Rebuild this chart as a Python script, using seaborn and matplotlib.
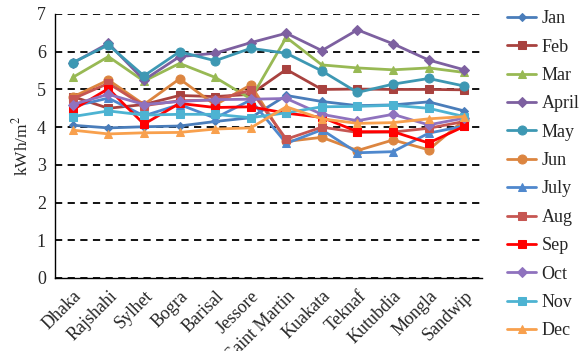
import numpy as np
import pandas as pd
import matplotlib
matplotlib.use("Agg")
import matplotlib.pyplot as plt
import seaborn as sns

# 地点
cities = ["Dhaka", "Rajshahi", "Sylhet", "Bogra", "Barisal", "Jessore",
          "Saint Martin", "Kuakata", "Teknaf", "Kutubdia", "Mongla", "Sandwip"]

# 月別日射量 (kWh/m2)
jan = [4.05, 3.98, 4.01, 4.03, 4.15, 4.25, 4.84, 4.68, 4.57, 4.59, 4.67, 4.43]
feb = [4.81, 4.50, 4.60, 4.84, 4.81, 4.87, 5.53, 5.00, 5.01, 5.00, 5.00, 4.99]
mar = [5.32, 5.87, 5.22, 5.69, 5.32, 4.75, 6.38, 5.65, 5.57, 5.52, 5.57, 5.45]
april = [5.70, 6.22, 5.25, 5.87, 5.96, 6.24, 6.49, 6.03, 6.58, 6.21, 5.78, 5.52]
may = [5.71, 6.18, 5.36, 6.00, 5.76, 6.09, 5.96, 5.49, 4.92, 5.14, 5.29, 5.09]
jun = [4.80, 5.25, 4.60, 5.28, 4.59, 5.12, 3.62, 3.73, 3.38, 3.66, 3.40, 4.19]
july = [4.55, 4.77, 4.30, 4.60, 4.24, 4.72, 3.57, 3.93, 3.32, 3.35, 3.84, 4.03]
aug = [4.75, 5.16, 4.57, 4.70, 4.72, 4.98, 3.68, 4.00, 3.86, 3.87, 3.97, 4.15]
sep = [4.46, 5.02, 4.08, 4.63, 4.52, 4.54, 4.37, 4.26, 3.88, 3.88, 3.58, 4.02]
oct_ = [4.60, 4.87, 4.60, 4.68, 4.73, 4.74, 4.76, 4.34, 4.17, 4.34, 4.06, 4.24]
nov = [4.28, 4.43, 4.32, 4.34, 4.34, 4.25, 4.38, 4.54, 4.55, 4.58, 4.50, 4.28]
dec = [3.92, 3.82, 3.85, 3.86, 3.95, 3.98, 4.54, 4.22, 4.10, 4.12, 4.22, 4.28]

months = ["Jan", "Feb", "Mar", "April", "May", "Jun",
          "July", "Aug", "Sep", "Oct", "Nov", "Dec"]
values = [jan, feb, mar, april, may, jun, july, aug, sep, oct_, nov, dec]

# 色・マーカー
colors = ["#4A7DBA", "#A8423F", "#98B954", "#7D60A0", "#3D98B3", "#DC8540",
          "#4F88CD", "#C65652", "#FF0000", "#8F72BE", "#4DB3D2", "#F8A04D"]
markers = ["D", "s", "^", "D", "o", "o", "^", "s", "s", "D", "s", "^"]
msizes = [4, 6, 6, 5, 6.5, 6.5, 6, 6, 6, 5.5, 6, 6]

df = pd.DataFrame({
    "city": cities * len(months),
    "month": np.repeat(months, len(cities)),
    "value": np.concatenate(values),
})

sns.set_style("white")
plt.rcParams["font.family"] = ["Liberation Serif", "DejaVu Serif"]
plt.rcParams["mathtext.fontset"] = "stix"

fig = plt.figure(figsize=(5.86, 3.51), dpi=100)
ax = fig.add_axes([55 / 586, 1 - 278 / 351, 427 / 586, 264 / 351])

for m, c, mk, ms in zip(months, colors, markers, msizes):
    sub = df[df["month"] == m]
    sns.lineplot(data=sub, x="city", y="value", ax=ax, color=c, marker=mk,
                 markersize=ms, markeredgecolor=c, linewidth=2.0, sort=False,
                 label=m)

ax.set_xlim(-0.5, len(cities) - 0.5)
ax.set_ylim(0, 7)
ax.set_yticks(range(0, 8))
ax.set_xticks(range(len(cities)))
ax.set_xticklabels(cities, rotation=45, ha="right", rotation_mode="anchor")
ax.set_xticks(np.arange(-0.5, len(cities), 1), minor=True)
ax.tick_params(axis="x", which="major", length=0, labelsize=13, pad=7)
ax.tick_params(axis="x", which="minor", length=5, direction="out", color="black")
ax.tick_params(axis="y", length=7, direction="inout", labelsize=13, color="black", pad=3)
ax.set_xlabel("")
ax.set_ylabel(r"kWh/m$^2$", fontsize=12.5, labelpad=4)

ax.yaxis.grid(True, linestyle=(0, (4, 3)), color="black", linewidth=1.3)
ax.set_axisbelow(True)
for s in ["top", "right"]:
    ax.spines[s].set_visible(False)
for s in ["left", "bottom"]:
    ax.spines[s].set_color("black")
    ax.spines[s].set_linewidth(1.0)

handles, labels = ax.get_legend_handles_labels()
ax.get_legend().remove()
fig.legend(handles, labels, loc="upper left", bbox_to_anchor=(500 / 586, 1 - 3 / 351),
           frameon=False, fontsize=13, labelspacing=0.63, handlelength=1.6,
           handletextpad=0.3, borderaxespad=0)

fig.savefig("out.png", dpi=100)
